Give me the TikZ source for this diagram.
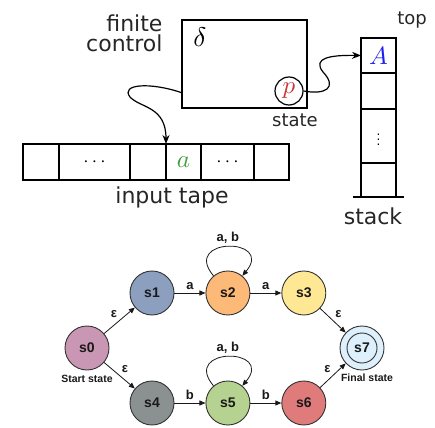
\documentclass[tikz,border=0pt]{standalone}
\usepackage{fontspec}
\setmainfont{DejaVu Sans}
\newfontfamily\arialfont{Liberation Sans}
\usetikzlibrary{arrows.meta, positioning, calc}
\definecolor{pred}{HTML}{CC3333}
\definecolor{agreen}{HTML}{3FA03F}
\definecolor{ablue}{HTML}{2020EE}
\definecolor{czero}{HTML}{C996B4}
\definecolor{cone}{HTML}{8C9FBF}
\definecolor{ctwo}{HTML}{FDB978}
\definecolor{cthree}{HTML}{FFE893}
\definecolor{cfour}{HTML}{8B9191}
\definecolor{cfive}{HTML}{B5D290}
\definecolor{csix}{HTML}{DF7C7B}
\definecolor{cseven}{HTML}{DDF0FB}
\newcommand{\bigmath}[2][2.5]{\scalebox{#1}{$#2$}}
\tikzset{
	cell/.style = {draw, line width = 1.2pt, minimum height = 36pt, inner sep = 0pt, outer sep = 0pt},
	bigtext/.style = {font = \fontsize{22}{20}\selectfont, text = black!85},
	smalltext/.style = {font = \fontsize{18}{18}\selectfont, text = black!85},
	fsm/.style = {circle, draw = black!80, line width = 0.9pt, minimum size = 44pt, inner sep = 0pt, font = \arialfont\bfseries\fontsize{14}{14}\selectfont, text = black!90},
	lbl/.style = {font = \arialfont\bfseries\fontsize{13}{13}\selectfont, text = black!90, inner sep = 2pt},
	fsmarrow/.style = {-{Triangle[length = 6pt, width = 5pt]}, line width = 0.8pt, black!90}
}
\begin{document}
\begin{tikzpicture}[x = 1pt, y = -1pt]
		\useasboundingbox (0,0) rectangle (435,427);
		% pushdown automaton
		\node[draw, line width = 1.2pt, minimum width = 125pt, minimum height = 88pt, inner sep = 0pt] (fc) at (244.5,64) {};
		\node (delta) at (200,37) {\bigmath[2.7]{\delta}};
		\node[circle, draw, line width = 1.2pt, minimum size = 28pt, inner sep = 0pt, text = pred] (p) at (289,91) {\bigmath{p}};
		\node[bigtext, align = right, anchor = east] (fclabel) at (166,33) {finite\\control};
		\node[smalltext] (statelbl) at (295,120) {state};
		\node[cell, minimum width = 36pt] (t1) at (41,162) {};
		\node[cell, minimum width = 71pt, right = 0pt of t1] (t2) {\bigmath[1.9]{\cdots}};
		\node[cell, minimum width = 36pt, right = 0pt of t2] (t3) {};
		\node[cell, minimum width = 35pt, right = 0pt of t3, text = agreen] (t4) {\bigmath{a}};
		\node[cell, minimum width = 53pt, right = 0pt of t4] (t5) {\bigmath[1.9]{\cdots}};
		\node[cell, minimum width = 35pt, right = 0pt of t5] (t6) {};
		\node[bigtext] (tapelbl) at (172,197) {input tape};
		\node[cell, minimum width = 35pt, minimum height = 35pt, text = ablue] (st1) at (378.5,55.5) {\bigmath{A}};
		\node[cell, minimum width = 35pt, minimum height = 36pt, below = 0pt of st1] (st2) {};
		\node[cell, minimum width = 35pt, minimum height = 54pt, below = 0pt of st2] (st3) {\bigmath[1.2]{\vdots}};
		\node[cell, minimum width = 35pt, minimum height = 34pt, below = 0pt of st3] (st4) {};
		\draw[line width = 1.2pt] ($(st4.south west)+(-8,0)$) -- ($(st4.south east)+(8,0)$);
		\node[smalltext] (toplbl) at (412,20) {top};
		\node[bigtext] (stacklbl) at (373,216) {stack};
		\draw[-{Stealth[length = 9pt, width = 7pt]}, line width = 1.2pt] ([yshift = 16pt]fc.south west) .. controls (150,82) and (120,84) .. (130,97) .. controls (140,108) and (166,106) .. (t4.north west);
		\draw[-{Stealth[length = 9pt, width = 7pt]}, line width = 1.2pt] (p.east) .. controls (325,95) and (338,88) .. (323,72) .. controls (312,58) and (330,55) .. (st1.west);
		% finite automaton
		\node[fsm, fill = czero] (s0) at (87,348) {s0};
		\node[fsm, fill = cone] (s1) at (152,293) {s1};
		\node[fsm, fill = ctwo, right = 31pt of s1] (s2) {s2};
		\node[fsm, fill = cthree, right = 31pt of s2] (s3) {s3};
		\node[fsm, fill = cfour] (s4) at (152,403) {s4};
		\node[fsm, fill = cfive, right = 31pt of s4] (s5) {s5};
		\node[fsm, fill = csix, right = 31pt of s5] (s6) {s6};
		\node[fsm, fill = cseven] (s7) at (362,348) {};
		\node[fsm, minimum size = 30pt] (s7in) at (s7) {s7};
		\node[lbl, font = \arialfont\bfseries\fontsize{10.5}{10.5}\selectfont, below = 3pt of s0] (startlbl) {Start state};
		\node[lbl, font = \arialfont\bfseries\fontsize{10.5}{10.5}\selectfont, below = 1pt of s7, xshift = 5pt] (finallbl) {Final state};
		\draw[fsmarrow] (s0) -- node[lbl, above left] {ε} (s1);
		\draw[fsmarrow] (s0) -- node[lbl, above right] {ε} (s4);
		\draw[fsmarrow] (s1) -- node[lbl, above = 1pt] {a} (s2);
		\draw[fsmarrow] (s2) -- node[lbl, above = 1pt] {a} (s3);
		\draw[fsmarrow] (s4) -- node[lbl, above = 1pt] {b} (s5);
		\draw[fsmarrow] (s5) -- node[lbl, above = 1pt] {b} (s6);
		\draw[fsmarrow] (s3) -- node[lbl, above right] {ε} (s7);
		\draw[fsmarrow] (s6) -- node[lbl, above left] {ε} (s7);
		\draw[fsmarrow] (s2) to[out = 130, in = 50, looseness = 4.5] node[lbl, above = 1pt] {a, b} (s2);
		\draw[fsmarrow] (s5) to[out = 130, in = 50, looseness = 4.5] node[lbl, above = 1pt] {a, b} (s5);
	\end{tikzpicture}
\end{document}
